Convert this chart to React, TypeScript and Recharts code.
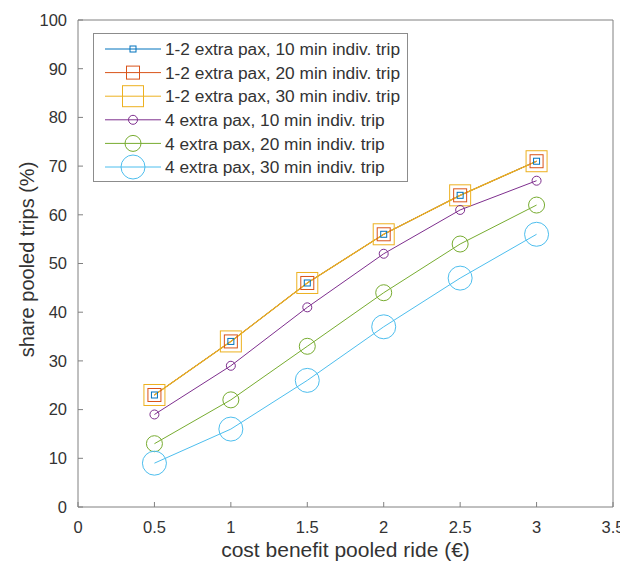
import React from "react";
import { LineChart, Line, XAxis, YAxis, Legend } from "recharts";

const costBenefit = [0.5, 1, 1.5, 2, 2.5, 3];
const pax12min10 = [23, 34, 46, 56, 64, 71];
const pax12min20 = [23, 34, 46, 56, 64, 71];
const pax12min30 = [23, 34, 46, 56, 64, 71];
const pax4min10 = [19, 29, 41, 52, 61, 67];
const pax4min20 = [13, 22, 33, 44, 54, 62];
const pax4min30 = [9, 16, 26, 37, 47, 56];
const xTicks = [0, 0.5, 1, 1.5, 2, 2.5, 3, 3.5];
const yTicks = [0, 10, 20, 30, 40, 50, 60, 70, 80, 90, 100];
const seriesNames = [
  "1-2 extra pax, 10 min indiv. trip",
  "1-2 extra pax, 20 min indiv. trip",
  "1-2 extra pax, 30 min indiv. trip",
  "4 extra pax, 10 min indiv. trip",
  "4 extra pax, 20 min indiv. trip",
  "4 extra pax, 30 min indiv. trip",
];

const seriesValues = [pax12min10, pax12min20, pax12min30, pax4min10, pax4min20, pax4min30];
const keys = ["s1", "s2", "s3", "s4", "s5", "s6"];
const data = costBenefit.map((x, i) => {
  const row: any = { x };
  keys.forEach((k, j) => (row[k] = seriesValues[j][i]));
  return row;
});

const colors = ["#0072BD", "#D95319", "#EDB120", "#7E2F8E", "#77AC30", "#4DBEEE"];
const lineWidths = [1, 1, 1.3, 1, 1, 1];
const shapes = [
  { type: "square", size: 6 },
  { type: "square", size: 13 },
  { type: "square", size: 21 },
  { type: "circle", size: 9 },
  { type: "circle", size: 16 },
  { type: "circle", size: 24 },
];

const FONT = "'Liberation Sans', Arial, Helvetica, sans-serif";
const AXIS = "#808080";
const TEXT = "#333333";

function MarkerShape({ cx, cy, idx }: { cx: number; cy: number; idx: number }) {
  const s = shapes[idx];
  const c = colors[idx];
  if (s.type === "square") {
    return (
      <rect x={cx - s.size / 2} y={cy - s.size / 2} width={s.size} height={s.size} fill="none" stroke={c} strokeWidth={1} />
    );
  }
  return <circle cx={cx} cy={cy} r={s.size / 2} fill="none" stroke={c} strokeWidth={1} />;
}

const makeDot = (idx: number) => (p: any) => {
  if (p.cx == null || p.cy == null) return <g key={`d${idx}-${p.index}`} />;
  return (
    <g key={`d${idx}-${p.index}`}>
      <MarkerShape cx={p.cx} cy={p.cy} idx={idx} />
    </g>
  );
};

const LegendBox = () => {
  const rowsY = [16, 39.6, 63.2, 86.8, 110.4, 134];
  return (
    <svg width={315} height={149} style={{ display: "block" }}>
      <rect x={0.5} y={0.5} width={314} height={148} fill="#fff" stroke="#8c8c8c" strokeWidth={1} />
      {seriesNames.map((name, i) => (
        <g key={name}>
          <line x1={12} x2={68} y1={rowsY[i]} y2={rowsY[i]} stroke={colors[i]} strokeWidth={1} />
          <MarkerShape cx={40} cy={rowsY[i]} idx={i} />
          <text x={72} y={rowsY[i]} dy="0.36em" fontSize={17.3} fontFamily={FONT} fill={TEXT}>
            {name}
          </text>
        </g>
      ))}
    </svg>
  );
};

export default function App() {
  return (
    <div style={{ width: 620, height: 557 }}>
      <style>{`.recharts-surface { overflow: visible; }`}</style>
      <LineChart width={620} height={557} data={data} margin={{ top: 0, right: 0, bottom: 0, left: 0 }}>
        <XAxis
          xAxisId="b"
          dataKey="x"
          type="number"
          domain={[0, 3.5]}
          ticks={xTicks}
          orientation="bottom"
          height={58}
          stroke={AXIS}
          tickSize={-5}
          tickMargin={19}
          tick={{ fill: TEXT, fontSize: 16.5, fontFamily: FONT }}
          interval={0}
          label={(props: any) => (
            <text x={337.5} y={548.5} textAnchor="middle" fontSize={21} fontFamily={FONT} fill={TEXT}>
              cost benefit pooled ride (€)
            </text>
          )}
        />
        <XAxis
          xAxisId="t"
          dataKey="x"
          type="number"
          domain={[0, 3.5]}
          ticks={xTicks}
          orientation="top"
          height={12}
          stroke={AXIS}
          tickSize={-5}
          tick={false}
          interval={0}
        />
        <YAxis
          yAxisId="l"
          type="number"
          domain={[0, 100]}
          ticks={yTicks}
          orientation="left"
          width={70}
          stroke={AXIS}
          tickSize={-5}
          tickMargin={16}
          tick={{ fill: TEXT, fontSize: 16.5, fontFamily: FONT }}
          interval={0}
          label={(props: any) => (
            <text
              x={26}
              y={251.5}
              transform="rotate(-90 26 251.5)"
              textAnchor="middle"
              fontSize={20}
              fontFamily={FONT}
              fill={TEXT}
            >
              share pooled trips (%)
            </text>
          )}
        />
        <YAxis
          yAxisId="r"
          type="number"
          domain={[0, 100]}
          ticks={yTicks}
          orientation="right"
          width={15}
          stroke={AXIS}
          tickSize={-5}
          tick={false}
          interval={0}
        />
        <Legend
          layout="vertical"
          align="center"
          verticalAlign="middle"
          wrapperStyle={{ position: "absolute", left: 85, top: 25, width: 315, height: 149 }}
          content={() => <LegendBox />}
        />
        {keys.map((k, i) => (
          <Line
            key={k}
            xAxisId="b"
            yAxisId="l"
            dataKey={k}
            name={seriesNames[i]}
            stroke={colors[i]}
            strokeWidth={lineWidths[i]}
            dot={makeDot(i)}
            activeDot={false}
            isAnimationActive={false}
          />
        ))}
      </LineChart>
    </div>
  );
}
